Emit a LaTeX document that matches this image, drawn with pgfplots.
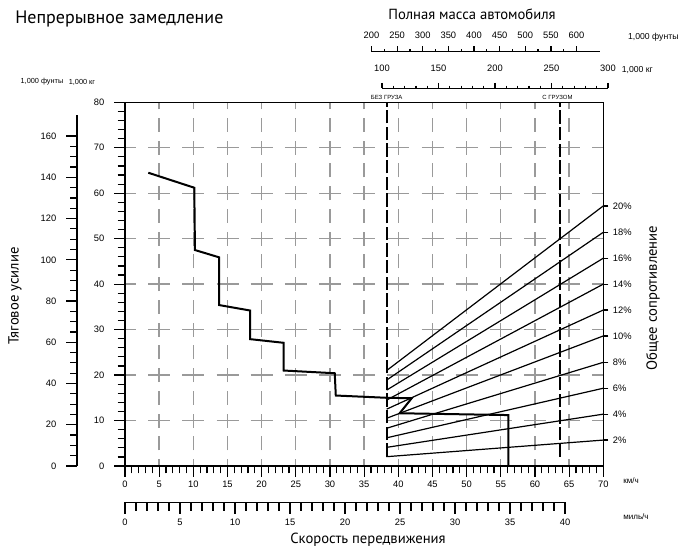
\documentclass[border=0pt]{standalone}
\usepackage{fontspec}
\setmainfont{Liberation Sans}
\newfontfamily\myr{PT Sans}
\usepackage{pgfplots}
\pgfplotsset{compat=1.18}
\definecolor{gridgray}{HTML}{9A9A9A}

\pgfplotsset{
  nomo/.style={
    scale only axis,
    tick align=outside,
    /pgf/number format/assume math mode=true,
    tick style={black, line width=0.9pt},
    axis line style={black, line width=1pt},
    ticklabel style={font=\fontsize{7}{8}\selectfont},
  },
}

\begin{document}
\begin{tikzpicture}
\useasboundingbox (0,0) rectangle (508.5pt,411pt);

% main chart: speed (km/h) vs tractive force (1000 kg)
\begin{axis}[nomo,
  at={(93.75pt,61.5pt)}, anchor=south west,
  width=358.7pt, height=272.8pt,
  xmin=0, xmax=70, ymin=0, ymax=80,
  xtick={0,5,...,70}, ytick={0,10,...,80},
  minor x tick num=4, minor y tick num=4,
  xtick pos=bottom, ytick pos=left,
  major tick length=8pt, minor tick length=5.5pt,
  yticklabel style={xshift=-4pt},
  grid=major,
  x grid style={gridgray, line width=1pt, dash pattern=on 10.5pt off 6.55pt, dash phase=5.25pt},
  y grid style={gridgray, line width=1pt, dash pattern=on 16.5pt off 9.13pt, dash phase=8.25pt},
  clip=false,
]
% tractive force curve
\addplot[black, line width=1.5pt, line join=miter] coordinates {
  (3.41,64.5) (10.14,61.2) (10.24,47.5) (13.76,45.9) (13.76,35.4)
  (18.3,34.2) (18.3,27.9) (23.2,27.1) (23.2,21.0) (30.7,20.4)
  (30.85,15.5) (38.3,15.0) (41.96,14.9) (40.2,11.6) (56.1,11.2) (56.1,0)
};
% total resistance lines 2% ... 20%
\addplot[black, line width=0.9pt] coordinates {(38.3,2.05) (70,5.7)};
\addplot[black, line width=0.9pt] coordinates {(38.3,4.1) (70,11.4)};
\addplot[black, line width=0.9pt] coordinates {(38.3,6.2) (70,17.1)};
\addplot[black, line width=0.9pt] coordinates {(38.3,8.3) (70,22.8)};
\addplot[black, line width=0.9pt] coordinates {(38.3,10.5) (70,28.6)};
\addplot[black, line width=0.9pt] coordinates {(38.3,12.5) (70,34.3)};
\addplot[black, line width=0.9pt] coordinates {(38.3,14.5) (70,40.0)};
\addplot[black, line width=0.9pt] coordinates {(38.3,16.7) (70,45.7)};
\addplot[black, line width=0.9pt] coordinates {(38.3,18.9) (70,51.4)};
\addplot[black, line width=0.9pt] coordinates {(38.3,21.0) (70,57.2)};
% empty / loaded
\addplot[black, line width=1.3pt, dash pattern=on 10pt off 2.5pt] coordinates {(38.3,2.05) (38.3,80)};
\addplot[black, line width=1.3pt, dash pattern=on 10pt off 2.5pt] coordinates {(63.7,2.0) (63.7,80)};
\node[font=\fontsize{4.5}{5}\selectfont, anchor=south, inner sep=1.5pt] at (axis cs:38.3,80) {БЕЗ ГРУЗА};
\node[font=\fontsize{4.5}{5}\selectfont, anchor=south, inner sep=1.5pt] at (axis cs:63.3,80) {С ГРУЗОМ};
\end{axis}

% right: resistance percentages
\begin{axis}[nomo,
  at={(93.75pt,61.5pt)}, anchor=south west,
  width=358.7pt, height=272.8pt,
  xmin=0, xmax=70, ymin=0, ymax=80,
  axis x line=none, axis y line*=right,
  ytick={5.7,11.4,17.1,22.8,28.6,34.3,40.0,45.7,51.4,57.2},
  yticklabels={2\%,4\%,6\%,8\%,10\%,12\%,14\%,16\%,18\%,20\%},
  major tick length=3.75pt,
  yticklabel style={font=\fontsize{7}{8}\selectfont},
]
\end{axis}

% left: tractive force in 1000 lb
\begin{axis}[nomo,
  at={(57.75pt,61.5pt)}, anchor=south west,
  width=20pt, height=262.9pt,
  xmin=0, xmax=1, ymin=0, ymax=170,
  axis x line=none, axis y line*=left,
  ytick={0,20,...,160}, minor y tick num=3,
  major tick length=8pt, minor tick length=5.25pt,
  yticklabel style={xshift=-4pt},
]
\end{axis}

% bottom: speed in mph
\begin{axis}[nomo,
  at={(93.75pt,34.3pt)}, anchor=south west,
  width=330pt, height=10pt,
  xmin=0, xmax=40, ymin=0, ymax=1,
  axis y line=none, axis x line*=bottom,
  xtick={0,5,...,40}, minor x tick num=4,
  major tick length=8.8pt, minor tick length=6.2pt,
]
\end{axis}

% top: gross vehicle weight, 1000 lb
\begin{axis}[nomo,
  at={(278.6pt,372.2pt)}, anchor=north west,
  width=171.1pt, height=10pt,
  xmin=200, xmax=645, ymin=0, ymax=1,
  axis y line=none, axis x line*=top,
  xtick={200,250,...,600}, minor x tick num=1,
  major tick length=4pt, minor tick length=2pt,
  xticklabel style={yshift=2.5pt},
]
\end{axis}

% top: gross vehicle weight, 1000 kg
\begin{axis}[nomo,
  at={(286.5pt,344.8pt)}, anchor=north west,
  width=169.5pt, height=10pt,
  xmin=100, xmax=300, ymin=0, ymax=1,
  axis y line=none, axis x line*=top,
  xtick={100,150,...,300}, minor x tick num=4,
  major tick length=4pt, minor tick length=2pt,
  xticklabel style={yshift=5pt},
]
\end{axis}

% texts
\node[anchor=west, font=\myr\fontsize{13.5}{16}\selectfont] at (8pt,396.75pt) {Непрерывное замедление};
\node[font=\myr\fontsize{11}{13}\selectfont] at (354pt,400.5pt) {Полная масса автомобиля};
\node[font=\fontsize{6.5}{7}\selectfont] at (490pt,383.25pt) {1,000 фунты};
\node[font=\fontsize{6.5}{7}\selectfont] at (478pt,358.5pt) {1,000 кг};
\node[font=\fontsize{5.5}{6}\selectfont] at (31.5pt,349.5pt) {1,000 фунты};
\node[font=\fontsize{5.5}{6}\selectfont] at (61.5pt,349.5pt) {1,000 кг};
\node[font=\fontsize{6}{7}\selectfont] at (473.25pt,50.25pt) {км/ч};
\node[font=\fontsize{6}{7}\selectfont] at (477pt,23.25pt) {миль/ч};
\node[font=\myr\fontsize{11}{13}\selectfont] at (276pt,6pt) {Скорость передвижения};
\node[rotate=90, font=\myr\fontsize{11}{13}\selectfont] at (11.25pt,189pt) {Тяговое усилие};
\node[rotate=90, font=\myr\fontsize{11}{13}\selectfont] at (489.75pt,187.5pt) {Общее сопротивление};
\end{tikzpicture}
\end{document}
